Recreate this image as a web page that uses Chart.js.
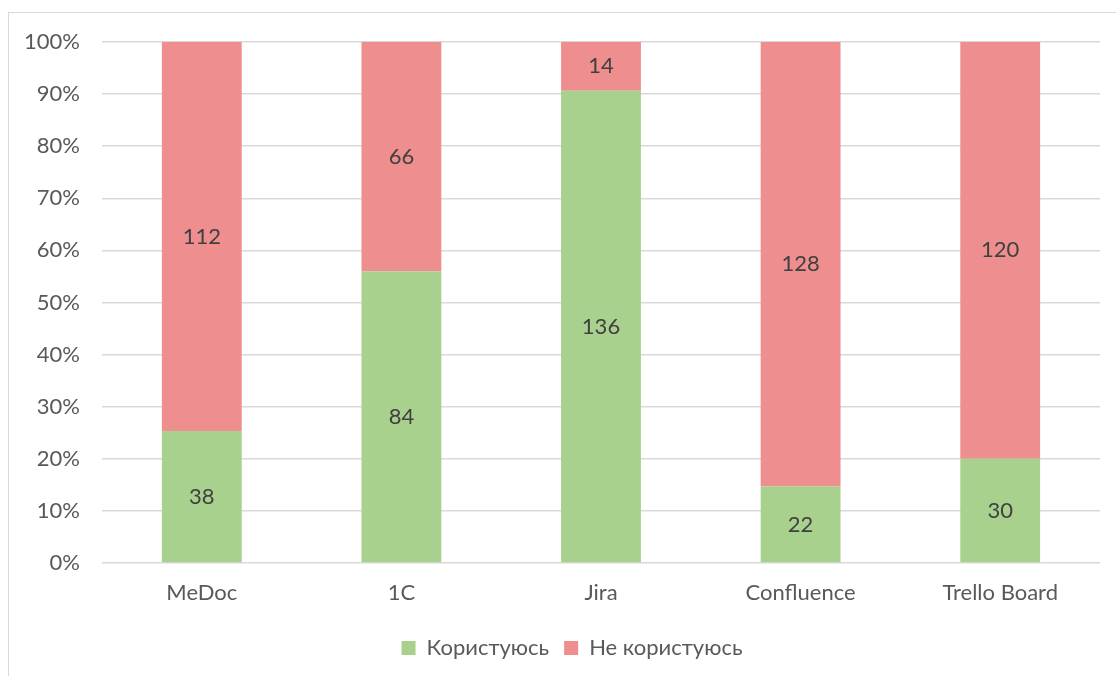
<!DOCTYPE html>
<html>
<head>
<meta charset="utf-8">
<script src="https://cdn.jsdelivr.net/npm/chart.js@4.4.1/dist/chart.umd.min.js"></script>
<style>
  html, body { margin: 0; padding: 0; background: #fff; overflow: hidden; }
  .frame {
    position: absolute; left: 8px; top: 12px;
    width: 1130px; height: 700px;
    border: 1px solid #d9d9d9;
  }
  .wrap { position: absolute; left: 0; top: 0; width: 1116px; height: 676px; }
</style>
</head>
<body>
<div class="frame"></div>
<div class="wrap"><canvas id="chart"></canvas></div>
<script>
const categories = ['MeDoc', '1C', 'Jira', 'Confluence', 'Trello Board'];
const usingCounts = [38, 84, 136, 22, 30];
const notUsingCounts = [112, 66, 14, 128, 120];
const seriesNames = ['Користуюсь', 'Не користуюсь'];

const font = { family: "Lato, 'Open Sans', sans-serif", size: 22 };

// 100% stacked: each bar is share of that category's total
const totals = categories.map((_, i) => usingCounts[i] + notUsingCounts[i]);
const toPct = arr => arr.map((v, i) => v / totals[i] * 100);

// draws the raw counts in the middle of each segment
const countLabels = {
  id: 'countLabels',
  afterDatasetsDraw(chart) {
    const ctx = chart.ctx;
    ctx.save();
    ctx.font = `${font.size}px ${font.family}`;
    ctx.fillStyle = '#404040';
    ctx.textAlign = 'center';
    ctx.textBaseline = 'middle';
    chart.data.datasets.forEach((ds, di) => {
      chart.getDatasetMeta(di).data.forEach((bar, i) => {
        ctx.fillText(String(ds.counts[i]), bar.x, (bar.y + bar.base) / 2);
      });
    });
    ctx.restore();
  }
};

// nudge the legend a bit right, like the original
const legendShift = {
  id: 'legendShift',
  afterLayout(chart) {
    chart.legend.left += 22;
    chart.legend.right += 22;
  }
};

new Chart(document.getElementById('chart'), {
  type: 'bar',
  data: {
    labels: categories,
    datasets: [
      { label: seriesNames[0], data: toPct(usingCounts), counts: usingCounts, backgroundColor: '#a9d18e' },
      { label: seriesNames[1], data: toPct(notUsingCounts), counts: notUsingCounts, backgroundColor: '#ee8e8e' }
    ]
  },
  options: {
    responsive: true,
    maintainAspectRatio: false,
    animation: false,
    datasets: { bar: { barPercentage: 1, categoryPercentage: 0.4 } },
    layout: { padding: { top: 42, right: 16, left: 0, bottom: 7 } },
    plugins: {
      tooltip: { enabled: false },
      legend: {
        position: 'bottom',
        labels: { font, color: '#595959', boxWidth: 14, boxHeight: 14, padding: 15 }
      }
    },
    scales: {
      x: {
        stacked: true,
        grid: { display: false },
        border: { display: false },
        ticks: { font, color: '#595959', padding: 9 },
        afterFit: axis => { axis.height = 59; }
      },
      y: {
        stacked: true,
        min: 0, max: 100,
        grid: { color: '#d9d9d9', lineWidth: 1.5, drawTicks: false },
        border: { display: false },
        ticks: { font, color: '#595959', stepSize: 10, padding: 22, callback: v => v + '%' },
        afterFit: axis => { axis.width = 102; }
      }
    }
  },
  plugins: [countLabels, legendShift]
});
</script>
</body>
</html>
